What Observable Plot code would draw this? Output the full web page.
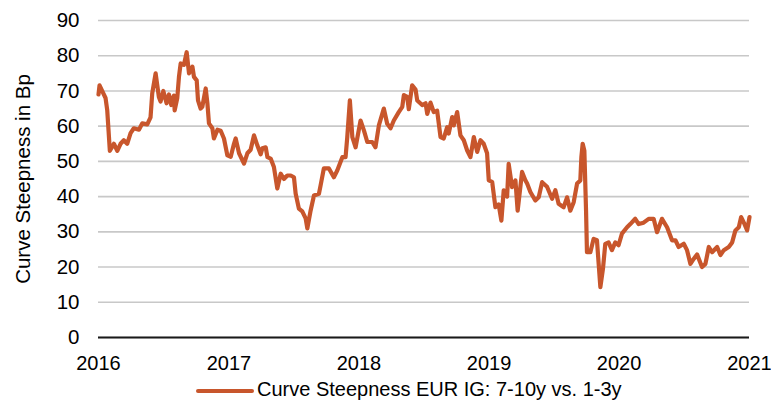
<!DOCTYPE html>
<html>
<head>
<meta charset="utf-8">
<script src="https://cdn.jsdelivr.net/npm/d3@7"></script>
<script src="https://cdn.jsdelivr.net/npm/@observablehq/plot@0.6"></script>
<style>
  html, body { margin: 0; padding: 0; background: #fff; }
  body { width: 771px; height: 401px; overflow: hidden; font-family: Arial, "Liberation Sans", sans-serif; position: relative; }
  #legend { position: absolute; left: 0; top: 376px; width: 771px; height: 24px; font-size: 20px; line-height: 23px; color: #000; }
  #legend .sw { position: absolute; left: 196px; top: 13px; width: 58px; height: 4px; background: #C8562C; border-radius: 2px; }
  #legend .tx { position: absolute; left: 257px; top: 2px; white-space: nowrap; }
</style>
</head>
<body>
<div id="chart"></div>
<div id="legend"><div class="sw"></div><div class="tx"></div></div>
<script>
const seriesName = "Curve Steepness EUR IG: 7-10y vs. 1-3y";
const yTitle = "Curve Steepness in Bp";
const xTickYears = [2016, 2017, 2018, 2019, 2020, 2021];
const yTicks = [0, 10, 20, 30, 40, 50, 60, 70, 80, 90];

// decimal-year positions
const years = [
  2016.000, 2016.008, 2016.028, 2016.054, 2016.067, 2016.087, 2016.118, 2016.144, 2016.169, 2016.194,
  2016.220, 2016.246, 2016.271, 2016.310, 2016.336, 2016.374, 2016.399, 2016.412, 2016.438, 2016.463,
  2016.476, 2016.497, 2016.522, 2016.540, 2016.558, 2016.578, 2016.584, 2016.604, 2016.617, 2016.630,
  2016.655, 2016.676, 2016.694, 2016.720, 2016.732, 2016.753, 2016.763, 2016.783, 2016.796, 2016.822,
  2016.835, 2016.847, 2016.873, 2016.885, 2016.912, 2016.937, 2016.962, 2016.988, 2017.014, 2017.039,
  2017.052, 2017.078, 2017.116, 2017.142, 2017.167, 2017.193, 2017.219, 2017.244, 2017.257, 2017.283,
  2017.296, 2017.321, 2017.346, 2017.372, 2017.398, 2017.423, 2017.449, 2017.475, 2017.500, 2017.513,
  2017.538, 2017.564, 2017.590, 2017.603, 2017.628, 2017.654, 2017.692, 2017.705, 2017.730, 2017.769,
  2017.807, 2017.833, 2017.872, 2017.897, 2017.910, 2017.930, 2017.949, 2017.974, 2018.012, 2018.038,
  2018.064, 2018.102, 2018.127, 2018.153, 2018.191, 2018.217, 2018.243, 2018.268, 2018.306, 2018.333,
  2018.345, 2018.371, 2018.383, 2018.409, 2018.435, 2018.448, 2018.486, 2018.512, 2018.525, 2018.550,
  2018.575, 2018.601, 2018.627, 2018.652, 2018.678, 2018.690, 2018.717, 2018.729, 2018.755, 2018.780,
  2018.806, 2018.832, 2018.857, 2018.883, 2018.909, 2018.934, 2018.959, 2018.985, 2018.998, 2019.024,
  2019.049, 2019.074, 2019.095, 2019.113, 2019.139, 2019.151, 2019.177, 2019.203, 2019.220, 2019.254,
  2019.280, 2019.293, 2019.318, 2019.356, 2019.382, 2019.408, 2019.446, 2019.485, 2019.510, 2019.535,
  2019.574, 2019.600, 2019.625, 2019.651, 2019.677, 2019.702, 2019.710, 2019.720, 2019.733, 2019.746,
  2019.753, 2019.779, 2019.804, 2019.830, 2019.843, 2019.856, 2019.876, 2019.894, 2019.919, 2019.945,
  2019.971, 2019.996, 2020.022, 2020.061, 2020.086, 2020.124, 2020.150, 2020.188, 2020.227, 2020.265,
  2020.291, 2020.329, 2020.368, 2020.406, 2020.432, 2020.457, 2020.496, 2020.521, 2020.547, 2020.572,
  2020.598, 2020.636, 2020.662, 2020.688, 2020.713, 2020.752, 2020.777, 2020.803, 2020.841, 2020.867,
  2020.892, 2020.918, 2020.936, 2020.962, 2020.982, 2021.000
];
const values = [
  69.0, 71.6, 70.0, 68.0, 64.5, 53.0, 55.0, 53.0, 55.0, 56.0,
  55.0, 58.0, 59.4, 59.0, 60.8, 60.5, 62.5, 69.3, 75.0, 68.3,
  67.0, 70.0, 66.5, 69.0, 66.0, 68.7, 64.5, 68.0, 74.0, 77.8,
  77.4, 81.0, 75.0, 76.9, 74.0, 73.0, 67.3, 65.0, 65.5, 70.7,
  66.5, 60.8, 59.4, 56.5, 59.0, 58.7, 56.5, 51.7, 51.3, 55.0,
  56.5, 52.3, 49.4, 52.3, 53.3, 57.4, 54.5, 52.0, 53.7, 54.0,
  51.2, 50.8, 48.4, 42.3, 46.5, 45.0, 46.0, 46.0, 45.5, 40.9,
  36.6, 35.8, 33.8, 31.0, 36.0, 40.3, 40.8, 43.2, 48.0, 48.0,
  45.5, 47.4, 51.2, 51.2, 56.9, 67.3, 56.9, 54.0, 61.6, 58.8,
  55.5, 55.5, 54.0, 60.2, 65.0, 60.7, 59.4, 61.6, 64.0, 65.5,
  68.8, 68.3, 64.8, 71.6, 70.4, 67.3, 66.0, 66.5, 63.5, 66.7,
  64.0, 64.4, 56.9, 56.5, 59.7, 57.9, 62.6, 60.2, 64.0, 57.4,
  56.0, 53.1, 51.2, 56.9, 52.7, 56.0, 55.0, 52.3, 44.6, 44.2,
  37.0, 37.8, 33.2, 41.8, 40.0, 49.3, 42.7, 44.6, 36.0, 47.0,
  44.6, 43.7, 41.3, 38.9, 39.8, 44.1, 42.8, 39.4, 41.8, 38.0,
  37.0, 39.8, 36.0, 38.4, 43.7, 44.6, 51.2, 55.0, 53.0, 36.0,
  24.2, 24.2, 28.0, 27.6, 20.9, 14.3, 19.5, 26.6, 27.0, 24.8,
  27.0, 26.2, 29.5, 31.3, 32.2, 33.7, 32.2, 32.6, 33.7, 33.7,
  29.9, 33.7, 31.3, 27.6, 27.6, 25.7, 26.6, 24.8, 20.9, 22.3,
  23.6, 20.0, 20.9, 25.7, 24.2, 25.7, 23.4, 24.8, 25.7, 27.0,
  30.4, 31.3, 34.2, 32.2, 30.4, 34.2
];

function toDate(y) {
  const yr = Math.floor(y);
  const start = Date.UTC(yr, 0, 1), end = Date.UTC(yr + 1, 0, 1);
  return new Date(start + (y - yr) * (end - start));
}
const data = years.map((y, i) => ({date: toDate(y), value: values[i]}));
const xTicks = xTickYears.map(y => new Date(Date.UTC(y, 0, 1)));

const chart = Plot.plot({
  width: 771,
  height: 375,
  marginLeft: 98,
  marginRight: 22,
  marginTop: 20,
  marginBottom: 38,
  style: {fontFamily: "Arial, 'Liberation Sans', sans-serif", fontSize: "20px", color: "#000", background: "#fff"},
  x: {type: "utc", domain: [xTicks[0], xTicks[xTicks.length - 1]]},
  y: {domain: [0, 90]},
  marks: [
    Plot.gridY(yTicks, {stroke: "#c8c8c8", strokeOpacity: 1, strokeWidth: 1.6}),
    Plot.axisY(yTicks, {tickSize: 0, tickPadding: 19, label: yTitle, labelAnchor: "center", labelArrow: "none", labelOffset: 83, fontSize: 20.5}),
    Plot.axisX(xTicks, {tickSize: 0, tickPadding: 18, tickFormat: d3.utcFormat("%Y"), label: null, fontSize: 20}),
    Plot.ruleY([0], {stroke: "#1a1a1a", strokeWidth: 2}),
    Plot.line(data, {x: "date", y: "value", stroke: "#C8562C", strokeWidth: 4.2, curve: "linear", strokeLinejoin: "round"})
  ]
});
document.getElementById("chart").appendChild(chart);
document.querySelector("#legend .tx").textContent = seriesName;
</script>
</body>
</html>
